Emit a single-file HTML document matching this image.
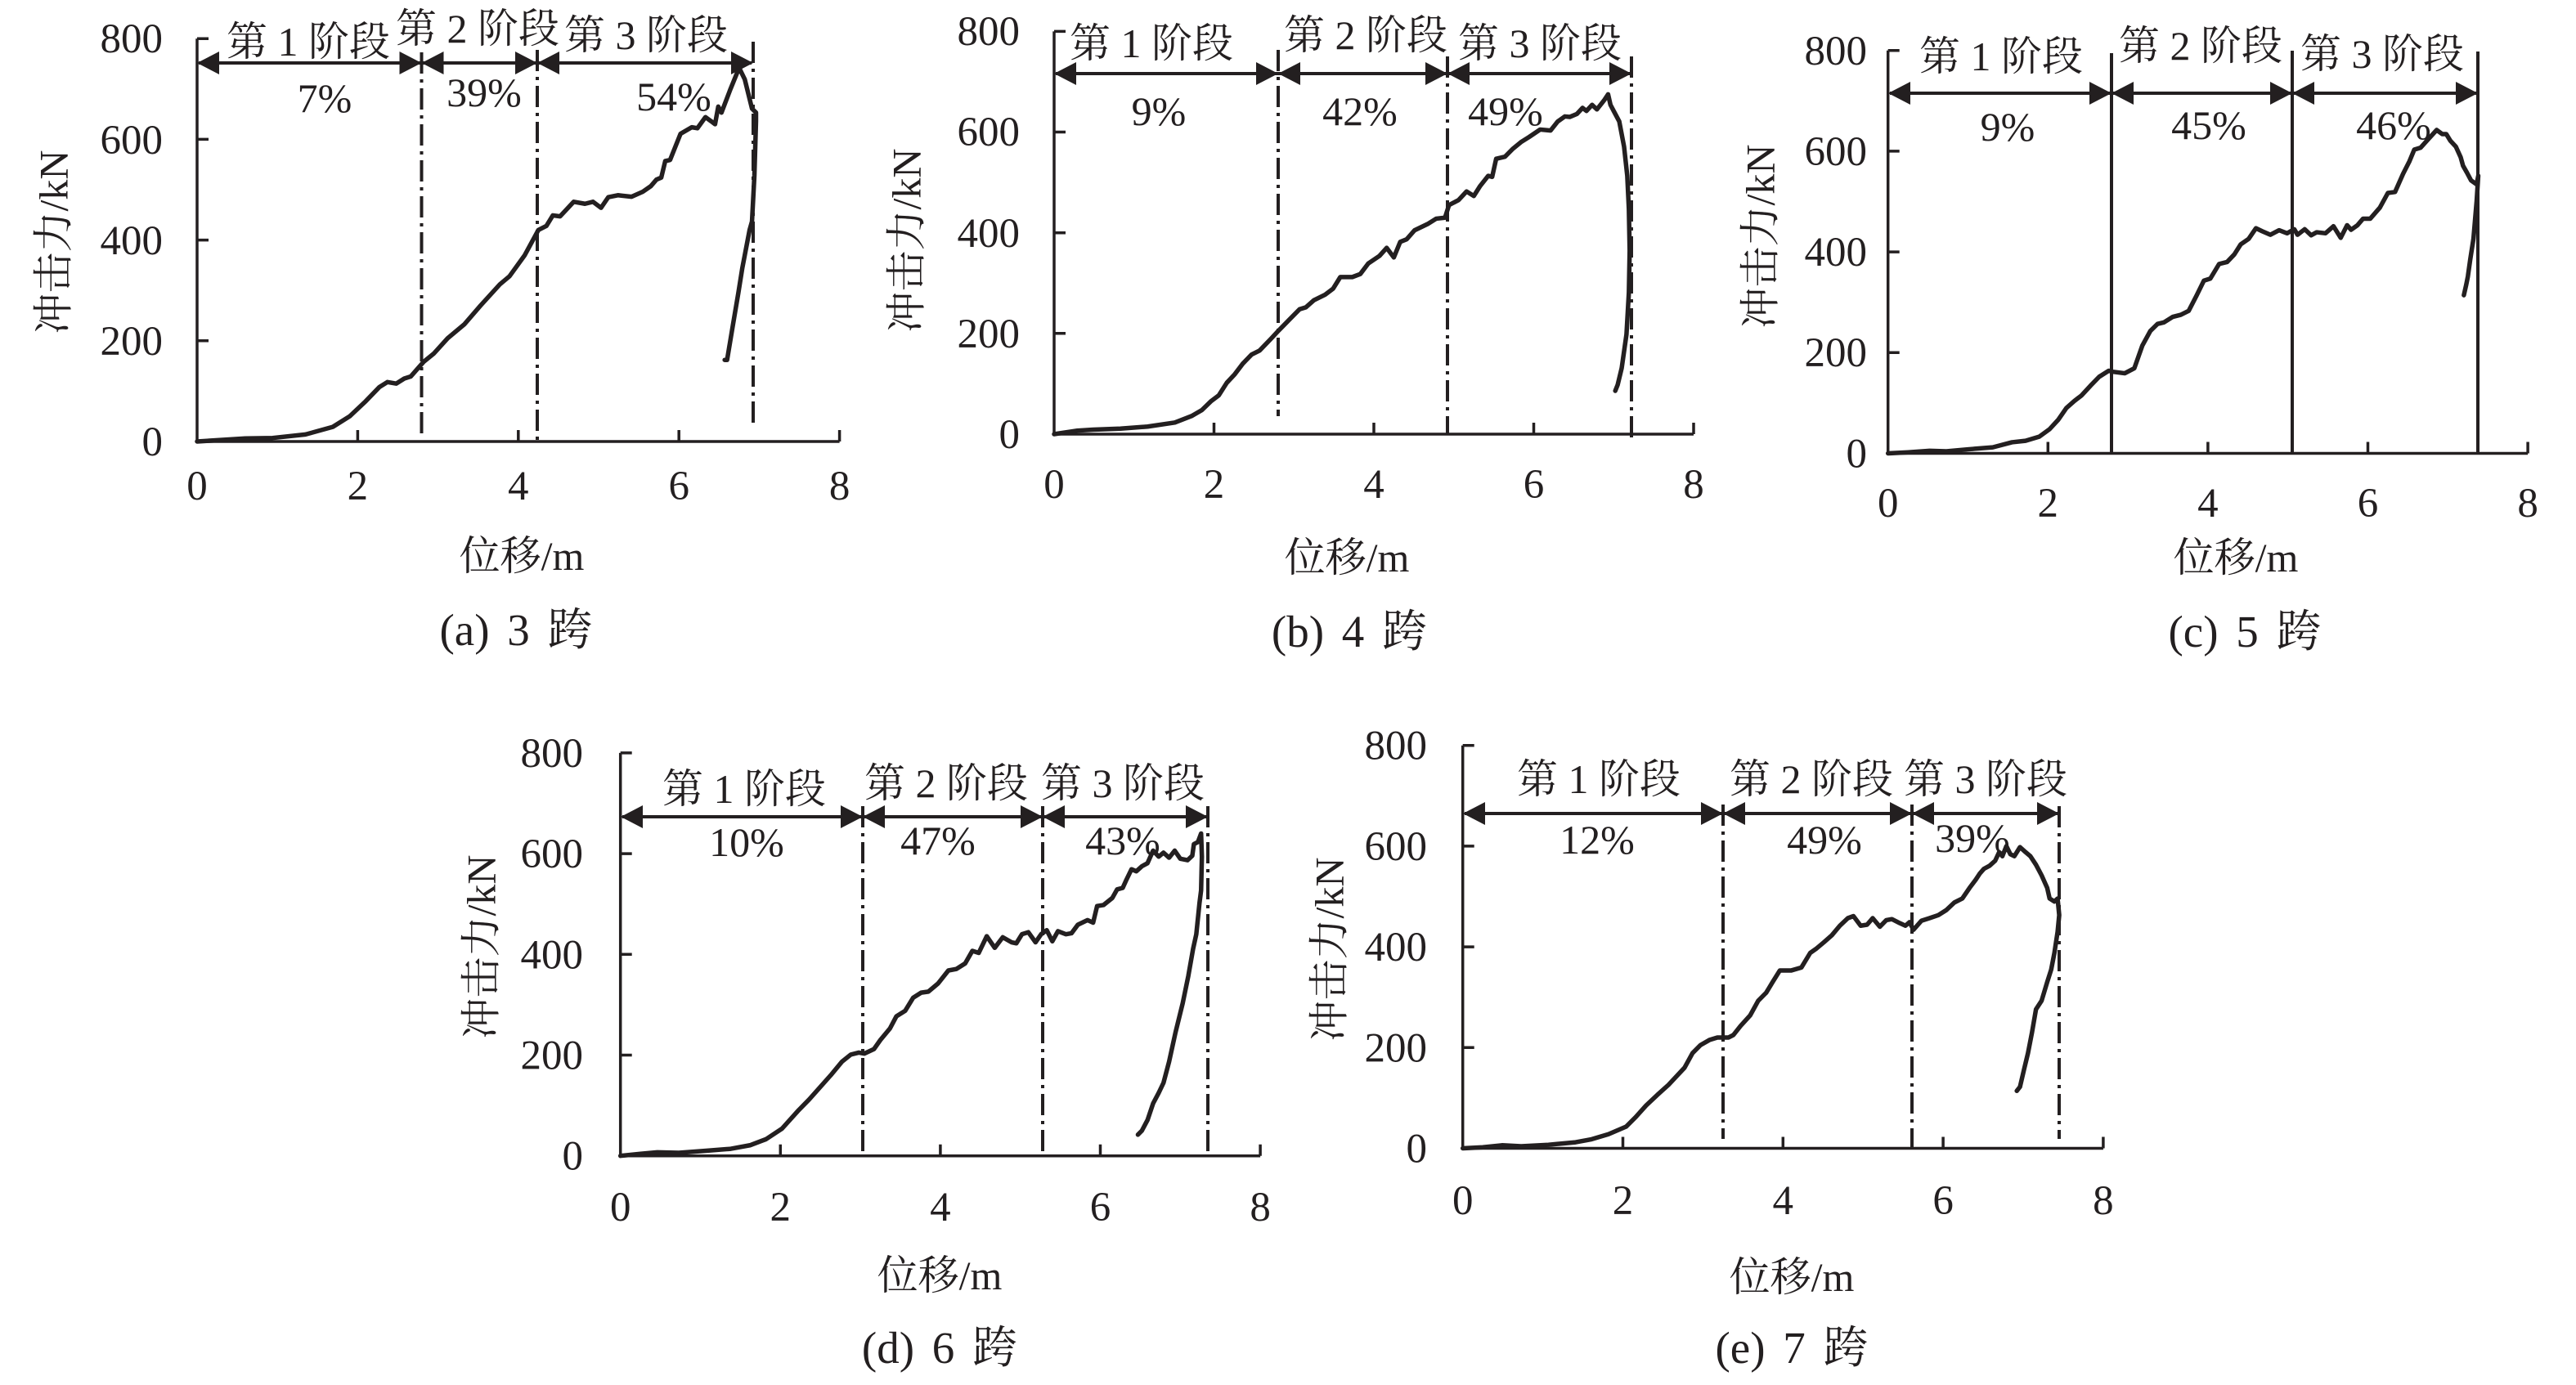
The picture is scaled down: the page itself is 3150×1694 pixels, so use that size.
<!DOCTYPE html>
<html><head><meta charset="utf-8"><style>
html,body{margin:0;padding:0;background:#fff;}
svg{display:block;}
text{font-family:"Liberation Serif","Noto Serif CJK SC","DejaVu Serif",serif;fill:#231f20;}
.t{font-size:51px;}
.s{font-size:50px;}
.c{font-size:55px;word-spacing:8px;}
.ax{fill:none;stroke:#231f20;stroke-width:3.5;}
.dd{stroke:#231f20;stroke-width:4;stroke-dasharray:26 7 4 7;fill:none;}
.sl{stroke:#231f20;stroke-width:4;fill:none;}
.ar{stroke:#231f20;stroke-width:4;fill:none;}
.cv{fill:none;stroke:#231f20;stroke-width:5.5;stroke-linejoin:round;stroke-linecap:round;}
polygon{fill:#231f20;}
</style></head><body>
<svg width="3150" height="1694" viewBox="0 0 3150 1694" xmlns="http://www.w3.org/2000/svg" font-family="'Liberation Serif','Noto Serif CJK SC','DejaVu Serif',serif">
<rect width="3150" height="1694" fill="#fff"/>

<!-- ================= (a) ================= -->
<path class="ax" d="M241,47.2 V540 H1026.6 M241,47.2h14 M241,170.4h14 M241,293.6h14 M241,416.8h14 M437.4,540v-14 M633.8,540v-14 M830.2,540v-14 M1026.6,540v-14"/>
<g class="t" text-anchor="end" font-family="'Liberation Serif',serif">
<text x="199" y="557">0</text><text x="199" y="434">200</text><text x="199" y="311">400</text><text x="199" y="188">600</text><text x="199" y="64">800</text>
</g>
<g class="t" text-anchor="middle" font-family="'Liberation Serif',serif">
<text x="241" y="611">0</text><text x="437.4" y="611">2</text><text x="633.8" y="611">4</text><text x="830.2" y="611">6</text><text x="1026.6" y="611">8</text>
</g>
<text class="s" text-anchor="middle" x="638" y="697">位移/m</text>
<text class="s" text-anchor="middle" transform="rotate(-90 65 296)" x="65" y="296" dy="0.35em">冲击力/kN</text>
<text class="c" text-anchor="middle" x="631" y="789">(a) 3 跨</text>
<path class="dd" d="M515.5,64 V535 M657,61 V540 M921,51 V520"/>
<path class="ar" d="M243,77 H919"/>
<polygon points="241,77 268,63 268,91"/><polygon points="515.5,77 488.5,63 488.5,91"/>
<polygon points="515.5,77 542.5,63 542.5,91"/><polygon points="657,77 630,63 630,91"/>
<polygon points="657,77 684,63 684,91"/><polygon points="921,77 894,63 894,91"/>
<g class="s" text-anchor="middle">
<text x="377" y="68">第 1 阶段</text><text x="584" y="52">第 2 阶段</text><text x="790" y="60">第 3 阶段</text>
<text x="397" y="137">7%</text><text x="592" y="130">39%</text><text x="824" y="135">54%</text>
</g>
<g transform="translate(241,540) scale(98.2,-0.616)">
<polyline class="cv" vector-effect="non-scaling-stroke" points="0,0 0.6,6 0.94,7 1.35,14 1.69,29 1.9,50 2.1,80 2.27,108 2.37,118 2.48,115 2.58,125 2.66,129 2.82,158 2.95,175 3.12,205 3.33,233 3.53,270 3.77,312 3.89,328 4.08,370 4.25,420 4.35,428 4.43,449 4.52,447 4.69,476 4.83,472 4.93,476 5.03,464 5.12,485 5.24,489 5.41,486 5.55,496 5.65,507 5.72,520 5.78,524 5.83,557 5.89,559 6.02,611 6.16,624 6.23,622 6.33,644 6.4,636 6.45,630 6.49,665 6.53,653 6.64,699 6.75,742 6.82,719 6.91,661 6.96,653 6.96,636 6.94,528 6.91,437 6.88,420 6.82,370 6.79,345 6.74,295 6.67,229 6.6,162 6.57,162"/>
</g>

<!-- ================= (b) ================= -->
<path class="ax" d="M1289,38.4 V531 H2071 M1289,38.4h14 M1289,161.5h14 M1289,284.7h14 M1289,407.8h14 M1484.5,531v-14 M1680,531v-14 M1875.5,531v-14 M2071,531v-14"/>
<g class="t" text-anchor="end" font-family="'Liberation Serif',serif">
<text x="1247" y="548">0</text><text x="1247" y="425">200</text><text x="1247" y="302">400</text><text x="1247" y="178">600</text><text x="1247" y="55">800</text>
</g>
<g class="t" text-anchor="middle" font-family="'Liberation Serif',serif">
<text x="1289" y="609">0</text><text x="1484.5" y="609">2</text><text x="1680" y="609">4</text><text x="1875.5" y="609">6</text><text x="2071" y="609">8</text>
</g>
<text class="s" text-anchor="middle" x="1647" y="699">位移/m</text>
<text class="s" text-anchor="middle" transform="rotate(-90 1108 294)" x="1108" y="294" dy="0.35em">冲击力/kN</text>
<text class="c" text-anchor="middle" x="1650" y="791">(b) 4 跨</text>
<path class="dd" d="M1563,61 V509 M1770,69 V532 M1995,69 V535"/>
<path class="ar" d="M1291,90 H1993"/>
<polygon points="1289,90 1316,76 1316,104"/><polygon points="1563,90 1536,76 1536,104"/>
<polygon points="1563,90 1590,76 1590,104"/><polygon points="1770,90 1743,76 1743,104"/>
<polygon points="1770,90 1797,76 1797,104"/><polygon points="1995,90 1968,76 1968,104"/>
<g class="s" text-anchor="middle">
<text x="1408" y="70">第 1 阶段</text><text x="1670" y="60">第 2 阶段</text><text x="1883" y="70">第 3 阶段</text>
<text x="1417" y="153">9%</text><text x="1663" y="153">42%</text><text x="1841" y="153">49%</text>
</g>
<g transform="translate(1289,531) scale(97.75,-0.6158)">
<polyline class="cv" vector-effect="non-scaling-stroke" points="0,0 0.29,7 0.49,9 0.83,11 1.17,15 1.51,23 1.72,36 1.85,48 1.96,65 2.06,77 2.16,102 2.26,119 2.36,140 2.47,158 2.57,166 2.71,189 2.81,206 2.94,227 3.07,248 3.15,252 3.25,266 3.39,277 3.49,289 3.58,312 3.73,312 3.83,318 3.93,339 4.07,354 4.16,370 4.25,351 4.33,382 4.41,387 4.51,405 4.68,418 4.78,428 4.89,430 4.94,455 5.06,465 5.16,482 5.25,473 5.33,493 5.43,513 5.48,511 5.53,547 5.64,551 5.74,567 5.84,580 5.94,590 6.08,605 6.21,603 6.3,621 6.39,631 6.45,630 6.54,636 6.61,648 6.66,642 6.73,654 6.79,645 6.88,663 6.93,675 6.96,654 7,642 7.07,621 7.13,571 7.17,513 7.19,447 7.2,364 7.19,281 7.16,198 7.1,131 7.05,98 7.02,86"/>
</g>

<!-- ================= (c) ================= -->
<path class="ax" d="M2308.7,61.7 V554.5 H3091.1 M2308.7,61.7h14 M2308.7,184.9h14 M2308.7,308.1h14 M2308.7,431.3h14 M2504.3,554.5v-14 M2699.9,554.5v-14 M2895.5,554.5v-14 M3091.1,554.5v-14"/>
<g class="t" text-anchor="end" font-family="'Liberation Serif',serif">
<text x="2283" y="571.5">0</text><text x="2283" y="448">200</text><text x="2283" y="325">400</text><text x="2283" y="202">600</text><text x="2283" y="79">800</text>
</g>
<g class="t" text-anchor="middle" font-family="'Liberation Serif',serif">
<text x="2308.7" y="632">0</text><text x="2504.3" y="632">2</text><text x="2699.9" y="632">4</text><text x="2895.5" y="632">6</text><text x="3091.1" y="632">8</text>
</g>
<text class="s" text-anchor="middle" x="2734" y="699">位移/m</text>
<text class="s" text-anchor="middle" transform="rotate(-90 2152 289)" x="2152" y="289" dy="0.35em">冲击力/kN</text>
<text class="c" text-anchor="middle" x="2745" y="791">(c) 5 跨</text>
<path class="sl" d="M2582,65 V554.5 M2803,62 V554.5 M3030,63 V554.5"/>
<path class="ar" d="M2311,114 H3028"/>
<polygon points="2309,114 2336,100 2336,128"/><polygon points="2582,114 2555,100 2555,128"/>
<polygon points="2582,114 2609,100 2609,128"/><polygon points="2803,114 2776,100 2776,128"/>
<polygon points="2803,114 2830,100 2830,128"/><polygon points="3030,114 3003,100 3003,128"/>
<g class="s" text-anchor="middle">
<text x="2447" y="86">第 1 阶段</text><text x="2691" y="73">第 2 阶段</text><text x="2913" y="83">第 3 阶段</text>
<text x="2455" y="172">9%</text><text x="2701" y="170">45%</text><text x="2927" y="170">46%</text>
</g>
<g transform="translate(2308.7,554.5) scale(97.8,-0.616)">
<polyline class="cv" vector-effect="non-scaling-stroke" points="0,0 0.25,2 0.52,5 0.73,4 1,8 1.31,12 1.55,22 1.72,25 1.89,33 2.02,48 2.13,67 2.23,90 2.33,104 2.42,115 2.53,134 2.64,152 2.76,164 2.81,162 2.96,159 3.08,169 3.18,214 3.28,243 3.37,257 3.45,260 3.56,271 3.66,275 3.76,283 3.86,314 3.95,343 4.03,347 4.14,376 4.24,380 4.33,395 4.41,415 4.51,426 4.6,447 4.68,441 4.78,434 4.89,443 4.99,437 5.08,445 5.12,434 5.21,445 5.29,433 5.36,439 5.47,437 5.57,451 5.66,428 5.74,453 5.79,444 5.87,453 5.94,466 6.03,466 6.15,488 6.25,517 6.34,519 6.44,555 6.52,580 6.58,603 6.66,607 6.75,623 6.86,642 6.93,634 6.98,634 7.03,621 7.1,609 7.16,588 7.19,571 7.24,557 7.29,542 7.36,534 7.38,551 7.36,501 7.32,426 7.28,385 7.25,351 7.23,335 7.2,314"/>
</g>

<!-- ================= (d) ================= -->
<path class="ax" d="M758.7,920.9 V1413.7 H1541.1 M758.7,920.9h14 M758.7,1044.1h14 M758.7,1167.3h14 M758.7,1290.5h14 M954.3,1413.7v-14 M1149.9,1413.7v-14 M1345.5,1413.7v-14 M1541.1,1413.7v-14"/>
<g class="t" text-anchor="end" font-family="'Liberation Serif',serif">
<text x="713" y="1430.7">0</text><text x="713" y="1307.5">200</text><text x="713" y="1184.3">400</text><text x="713" y="1061.1">600</text><text x="713" y="937.9">800</text>
</g>
<g class="t" text-anchor="middle" font-family="'Liberation Serif',serif">
<text x="758.7" y="1493">0</text><text x="954.3" y="1493">2</text><text x="1149.9" y="1493">4</text><text x="1345.5" y="1493">6</text><text x="1541.1" y="1493">8</text>
</g>
<text class="s" text-anchor="middle" x="1149" y="1577">位移/m</text>
<text class="s" text-anchor="middle" transform="rotate(-90 588 1158)" x="588" y="1158" dy="0.35em">冲击力/kN</text>
<text class="c" text-anchor="middle" x="1149" y="1667">(d) 6 跨</text>
<path class="dd" d="M1055,986 V1414 M1275,986 V1414 M1477,986 V1414"/>
<path class="ar" d="M761,999 H1475"/>
<polygon points="759,999 786,985 786,1013"/><polygon points="1055,999 1028,985 1028,1013"/>
<polygon points="1055,999 1082,985 1082,1013"/><polygon points="1275,999 1248,985 1248,1013"/>
<polygon points="1275,999 1302,985 1302,1013"/><polygon points="1477,999 1450,985 1450,1013"/>
<g class="s" text-anchor="middle">
<text x="910" y="982">第 1 阶段</text><text x="1157" y="975">第 2 阶段</text><text x="1373" y="975">第 3 阶段</text>
<text x="913" y="1047">10%</text><text x="1147" y="1045">47%</text><text x="1373" y="1045">43%</text>
</g>
<g transform="translate(758.7,1413.7) scale(97.8,-0.616)">
<polyline class="cv" vector-effect="non-scaling-stroke" points="0,0 0.25,4 0.46,7 0.73,6 1.07,10 1.38,14 1.62,21 1.82,33 2.02,54 2.23,91 2.36,112 2.5,137 2.64,162 2.77,187 2.88,201 2.98,205 3.05,203 3.17,212 3.25,230 3.37,253 3.45,277 3.56,288 3.66,314 3.76,324 3.85,326 3.97,342 4.1,368 4.2,371 4.31,382 4.4,407 4.48,403 4.58,436 4.68,413 4.78,434 4.89,424 4.95,422 5.02,440 5.1,444 5.19,424 5.26,440 5.33,448 5.4,426 5.47,446 5.57,440 5.64,442 5.72,459 5.84,468 5.91,463 5.96,496 6.04,498 6.15,512 6.21,529 6.28,532 6.32,546 6.39,569 6.45,565 6.52,575 6.59,581 6.66,606 6.73,594 6.79,602 6.86,592 6.93,606 7,590 7.09,587 7.15,596 7.17,619 7.22,623 7.26,640 7.27,594 7.26,527 7.24,502 7.2,440 7.16,411 7.1,357 7.03,303 6.94,245 6.86,187 6.79,145 6.73,125 6.66,104 6.59,71 6.52,50 6.47,42"/>
</g>

<!-- ================= (e) ================= -->
<path class="ax" d="M1788.7,911.7 V1404.5 H2571.9 M1788.7,911.7h14 M1788.7,1034.9h14 M1788.7,1158.1h14 M1788.7,1281.3h14 M1984.5,1404.5v-14 M2180.3,1404.5v-14 M2376.1,1404.5v-14 M2571.9,1404.5v-14"/>
<g class="t" text-anchor="end" font-family="'Liberation Serif',serif">
<text x="1745" y="1421.5">0</text><text x="1745" y="1298.3">200</text><text x="1745" y="1175.1">400</text><text x="1745" y="1051.9">600</text><text x="1745" y="928.7">800</text>
</g>
<g class="t" text-anchor="middle" font-family="'Liberation Serif',serif">
<text x="1788.7" y="1485">0</text><text x="1984.5" y="1485">2</text><text x="2180.3" y="1485">4</text><text x="2376.1" y="1485">6</text><text x="2571.9" y="1485">8</text>
</g>
<text class="s" text-anchor="middle" x="2191" y="1579">位移/m</text>
<text class="s" text-anchor="middle" transform="rotate(-90 1625 1161)" x="1625" y="1161" dy="0.35em">冲击力/kN</text>
<text class="c" text-anchor="middle" x="2191" y="1667">(e) 7 跨</text>
<path class="dd" d="M2107,984 V1393 M2338,984 V1404 M2518,986 V1393"/>
<path class="ar" d="M1791,995 H2516"/>
<polygon points="1789,995 1816,981 1816,1009"/><polygon points="2107,995 2080,981 2080,1009"/>
<polygon points="2107,995 2134,981 2134,1009"/><polygon points="2338,995 2311,981 2311,1009"/>
<polygon points="2338,995 2365,981 2365,1009"/><polygon points="2518,995 2491,981 2491,1009"/>
<g class="s" text-anchor="middle">
<text x="1955" y="970">第 1 阶段</text><text x="2215" y="970">第 2 阶段</text><text x="2428" y="970">第 3 阶段</text>
<text x="1953" y="1044">12%</text><text x="2231" y="1044">49%</text><text x="2412" y="1042">39%</text>
</g>
<g transform="translate(1788.7,1404.5) scale(97.9,-0.616)">
<polyline class="cv" vector-effect="non-scaling-stroke" points="0,0 0.25,2 0.49,6 0.73,4 1.07,7 1.41,12 1.61,18 1.82,28 2.04,43 2.16,62 2.29,85 2.43,106 2.57,126 2.67,143 2.77,160 2.87,189 2.97,205 3.08,215 3.18,220 3.32,220 3.38,225 3.47,243 3.59,264 3.69,293 3.79,309 3.87,330 3.96,353 4.1,353 4.23,359 4.34,388 4.42,397 4.51,409 4.61,423 4.71,442 4.81,457 4.88,461 4.97,442 5.05,444 5.12,457 5.21,440 5.29,453 5.36,455 5.46,447 5.53,442 5.58,449 5.63,434 5.73,452 5.83,457 5.94,463 6.04,473 6.14,488 6.24,496 6.33,517 6.41,534 6.46,546 6.51,555 6.58,561 6.65,571 6.7,588 6.74,580 6.79,600 6.84,584 6.89,580 6.96,598 7.03,588 7.09,580 7.16,563 7.23,542 7.3,517 7.33,496 7.39,490 7.43,496 7.45,463 7.43,430 7.39,388 7.35,355 7.3,330 7.23,293 7.16,276 7.11,230 7.06,189 7.01,156 6.96,122 6.92,114"/>
</g>
</svg>
</body></html>
